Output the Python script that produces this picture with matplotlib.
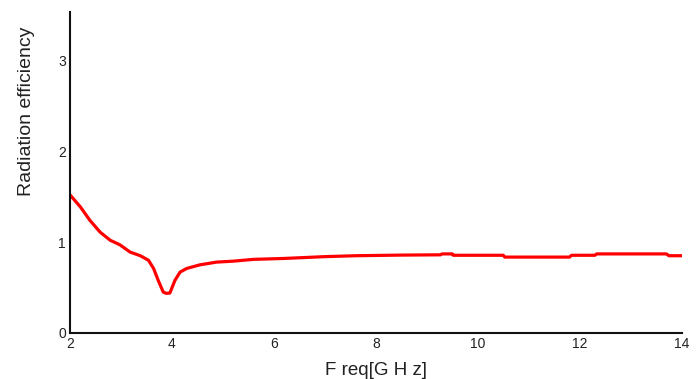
import matplotlib.pyplot as plt

# values
freq = [2.0, 2.2, 2.39, 2.59, 2.79, 2.98, 3.18, 3.38, 3.54, 3.64, 3.73, 3.83,
        3.89, 3.96, 4.06, 4.16, 4.29, 4.55, 4.88, 5.2, 5.6, 6.2, 7.0, 7.6,
        8.5, 9.27, 9.3, 9.5, 9.52, 10.5, 10.53, 11.8, 11.84, 12.3, 12.33,
        13.7, 13.75, 14.0]
eff = [1.52, 1.39, 1.24, 1.11, 1.02, 0.97, 0.89, 0.85, 0.80, 0.71, 0.58, 0.45,
       0.436, 0.44, 0.58, 0.67, 0.71, 0.75, 0.78, 0.79, 0.81, 0.82, 0.84, 0.85,
       0.857, 0.86, 0.87, 0.87, 0.855, 0.855, 0.835, 0.835, 0.855, 0.855, 0.87,
       0.87, 0.85, 0.85]

xticks = [2, 4, 6, 8, 10, 12, 14]
yticks = [0, 1, 2, 3]

plt.rcParams['font.family'] = ['Liberation Sans', 'DejaVu Sans']

fig = plt.figure(figsize=(6.97, 3.79), dpi=100)
ax = fig.add_axes([0.1004, 0.1214, 0.8776, 0.8466])

ax.plot(freq, eff, color='#ff0000', linewidth=2.3, solid_joinstyle='round')

ax.set_xlim(2, 14)
ax.set_ylim(0, 3.53)
ax.set_xticks(xticks)
ax.set_yticks(yticks)
ax.tick_params(length=0, labelsize=10, colors='#222222', pad=3)

for side in ['top', 'right']:
    ax.spines[side].set_visible(False)
for side in ['left', 'bottom']:
    ax.spines[side].set_linewidth(1.5)
    ax.spines[side].set_color('#111111')

ax.set_xlabel('F req[G H z]', fontsize=13.5, color='#222222', labelpad=8)
ax.set_ylabel('Radiation efficiency', fontsize=14, color='#222222')
ax.yaxis.set_label_coords(-0.058, 0.69)

fig.savefig('out.png', dpi=100)
